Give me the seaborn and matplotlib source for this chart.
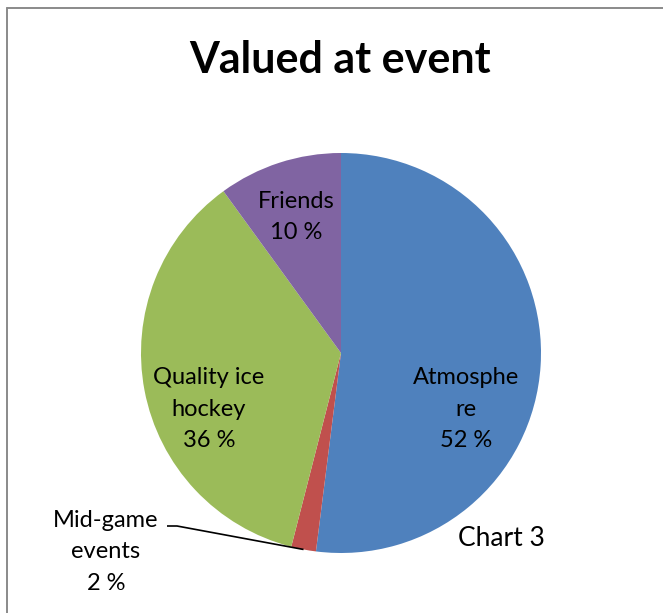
import matplotlib
matplotlib.use("Agg")
import matplotlib.pyplot as plt
from matplotlib.lines import Line2D
import numpy as np
import seaborn as sns

# Survey shares (percent), clockwise from 12 o'clock
categories = ["Atmosphe\nre", "Mid-game\nevents", "Quality ice\nhockey", "Friends"]
values = [52, 2, 36, 10]
colors = ["#4F81BD", "#C0504D", "#9BBB59", "#8064A2"]
title = "Valued at event"
caption = "Chart 3"

sns.set_theme(style="white")
plt.rcParams["font.family"] = ["Lato", "DejaVu Sans"]

W, H = 663, 613
fig = plt.figure(figsize=(W / 100, H / 100), dpi=100)
fig.patch.set_facecolor("white")

# pie centred at (341, 353) px with radius 200 px
cx, cy, r = 341, 353, 200
ax = fig.add_axes([(cx - r) / W, (H - cy - r) / H, 2 * r / W, 2 * r / H])
wedges, _ = ax.pie(values, colors=colors, startangle=90, counterclock=False,
                   radius=1.0, wedgeprops=dict(linewidth=0))
ax.set_xlim(-1, 1)
ax.set_ylim(-1, 1)
ax.set_aspect("equal")
ax.axis("off")

label_kw = dict(ha="center", va="center", fontsize=17, color="black",
                linespacing=1.62, clip_on=False)
labels = [f"{c}\n{v} %" for c, v in zip(categories, values)]
label_pos = {0: (0.625, -0.28), 2: (-0.66, -0.28), 3: (-0.225, 0.68)}
for i, (x, y) in label_pos.items():
    ax.text(x, y, labels[i], **label_kw)

# small slice: label outside with leader line
w = wedges[1]
mid = np.deg2rad((w.theta1 + w.theta2) / 2)
ex, ey = np.cos(mid), np.sin(mid)
ax.text(-1.175, -0.995, labels[1], **label_kw)
ax.plot([-0.87, -0.82, ex], [-0.865, -0.865, ey], color="black", lw=1.2,
        clip_on=False, solid_capstyle="butt")

ax.text(0.8, -0.925, caption, ha="center", va="center", fontsize=19,
        color="black", clip_on=False)

fig.text(340 / W, 1 - 60 / H, title, ha="center", va="center", fontsize=31,
         fontweight="bold", color="black")

# chart frame (top and left edges)
fig.add_artist(Line2D([7 / W, 1], [1 - 7.5 / H, 1 - 7.5 / H], color="#8a8a8a",
                      lw=1.4, transform=fig.transFigure))
fig.add_artist(Line2D([7 / W, 7 / W], [0, 1 - 7.5 / H], color="#8a8a8a",
                      lw=1.4, transform=fig.transFigure))

fig.savefig("out.png", dpi=100)
